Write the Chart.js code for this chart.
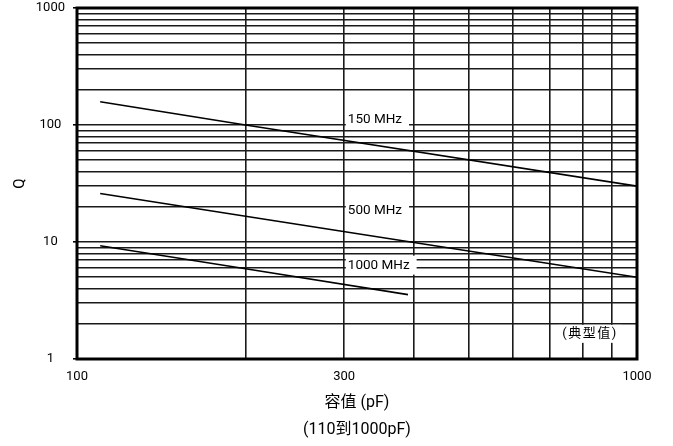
<!DOCTYPE html>
<html>
<head>
<meta charset="utf-8">
<script src="https://cdn.jsdelivr.net/npm/chart.js@4/dist/chart.umd.min.js"></script>
<style>
  html, body { margin: 0; padding: 0; background: #fff; }
</style>
</head>
<body>
<canvas id="qChart" width="673" height="446"></canvas>
<script>
// Capacitance (pF) vs Q, typical values
const q150 = [
  { x: 110, y: 158 },
  { x: 200, y: 100 },
  { x: 1000, y: 30 }
];
const q500 = [
  { x: 110, y: 26 },
  { x: 200, y: 16.6 },
  { x: 1000, y: 5 }
];
const q1000 = [
  { x: 110, y: 9.3 },
  { x: 200, y: 5.9 },
  { x: 390, y: 3.55 }
];

// grid lines and which of them get a label
const xGrid = [100, 200, 300, 400, 500, 600, 700, 800, 900, 1000];
const yGrid = [1, 2, 3, 4, 5, 6, 7, 8, 9, 10, 20, 30, 40, 50, 60, 70, 80, 90,
  100, 200, 300, 400, 500, 600, 700, 800, 900, 1000];
const xTickLabels = [100, 300, 1000];
const yTickLabels = [1, 10, 100, 1000];

// in-plot labels, anchored in data units (left edge / vertical centre)
const curveLabels = [
  { text: '150 MHz', c: 302, q: 112 },
  { text: '500 MHz', c: 302, q: 18.7 },
  { text: '1000 MHz', c: 302, q: 6.34 }
];
const noteLabel = { text: '(典型值)', c: 824, q: 1.64 };

const FONT = 'Roboto, "Noto Sans CJK SC", sans-serif';

const labelBoxes = {
  id: 'labelBoxes',
  beforeDatasetsDraw(chart) {
    const { ctx, scales: { x, y } } = chart;
    ctx.save();
    ctx.font = '13.5px ' + FONT;
    ctx.textBaseline = 'middle';
    curveLabels.forEach(l => {
      const px = x.getPixelForValue(l.c);
      const py = y.getPixelForValue(l.q);
      const w = ctx.measureText(l.text).width;
      ctx.fillStyle = '#fff';
      ctx.fillRect(px, py - 9.5, w + 9, 19);
      ctx.fillStyle = '#000';
      ctx.textAlign = 'left';
      ctx.fillText(l.text, px + 2, py);
    });

    ctx.font = '13px ' + FONT;
    ctx.letterSpacing = '1.5px';
    const cx = x.getPixelForValue(noteLabel.c);
    const cy = y.getPixelForValue(noteLabel.q);
    const nw = ctx.measureText(noteLabel.text).width;
    ctx.fillStyle = '#fff';
    ctx.fillRect(cx - nw / 2 - 4, cy - 9, nw + 8, 18);
    ctx.fillStyle = '#000';
    ctx.textAlign = 'center';
    ctx.fillText(noteLabel.text, cx, cy);
    ctx.restore();
  }
};

const frame = {
  id: 'frame',
  afterDatasetsDraw(chart) {
    const { ctx, chartArea: a } = chart;
    ctx.save();
    ctx.strokeStyle = '#000';
    ctx.lineWidth = 3;
    ctx.strokeRect(a.left, a.top, a.right - a.left, a.bottom - a.top);
    ctx.restore();
  }
};

// keep the plot box fixed; edge labels may overhang it
function noEdgePadding(scale) {
  scale.paddingTop = 0;
  scale.paddingBottom = 0;
  scale.paddingLeft = 0;
  scale.paddingRight = 0;
}

const lineStyle = {
  borderColor: '#000',
  borderWidth: 1.6,
  pointRadius: 0,
  tension: 0,
  fill: false
};

new Chart(document.getElementById('qChart'), {
  type: 'line',
  data: {
    datasets: [
      { label: '150 MHz', data: q150, ...lineStyle },
      { label: '500 MHz', data: q500, ...lineStyle },
      { label: '1000 MHz', data: q1000, ...lineStyle }
    ]
  },
  options: {
    responsive: false,
    animation: false,
    layout: { padding: { top: 8, right: 36, bottom: 0, left: 0 } },
    plugins: {
      legend: { display: false },
      tooltip: { enabled: false }
    },
    scales: {
      x: {
        type: 'logarithmic',
        min: 100,
        max: 1000,
        afterBuildTicks: (scale) => { scale.ticks = xGrid.map(v => ({ value: v })); },
        afterFit: (scale) => { scale.height = 87; noEdgePadding(scale); },
        border: { display: false },
        grid: {
          color: '#1a1a1a',
          lineWidth: 1.6,
          tickLength: 4,
          tickColor: 'transparent'
        },
        ticks: {
          autoSkip: false,
          maxRotation: 0,
          padding: 6,
          color: '#000',
          font: { family: FONT, size: 13 },
          callback: (v) => xTickLabels.includes(v) ? String(v) : ''
        },
        title: {
          display: true,
          text: ['容值 (pF)', '(110到1000pF)'],
          color: '#000',
          font: { family: FONT, size: 16, lineHeight: 1.7 },
          padding: { top: 0, bottom: 2.4 }
        }
      },
      y: {
        type: 'logarithmic',
        min: 1,
        max: 1000,
        afterBuildTicks: (scale) => { scale.ticks = yGrid.map(v => ({ value: v })); },
        afterFit: (scale) => { scale.width = 77; noEdgePadding(scale); },
        border: { display: false },
        grid: {
          color: '#1a1a1a',
          lineWidth: 1.6,
          tickLength: 4,
          tickColor: (c) => yTickLabels.includes(c.tick.value) ? '#000' : 'transparent'
        },
        ticks: {
          autoSkip: false,
          padding: 8,
          crossAlign: 'center',
          color: '#000',
          font: { family: FONT, size: 13 },
          callback: (v) => yTickLabels.includes(v) ? String(v) : ''
        },
        title: {
          display: true,
          text: 'Q',
          color: '#000',
          font: { family: FONT, size: 15, lineHeight: 1.2 },
          padding: { top: 11, bottom: 0 }
        }
      }
    }
  },
  plugins: [labelBoxes, frame]
});
</script>
</body>
</html>
